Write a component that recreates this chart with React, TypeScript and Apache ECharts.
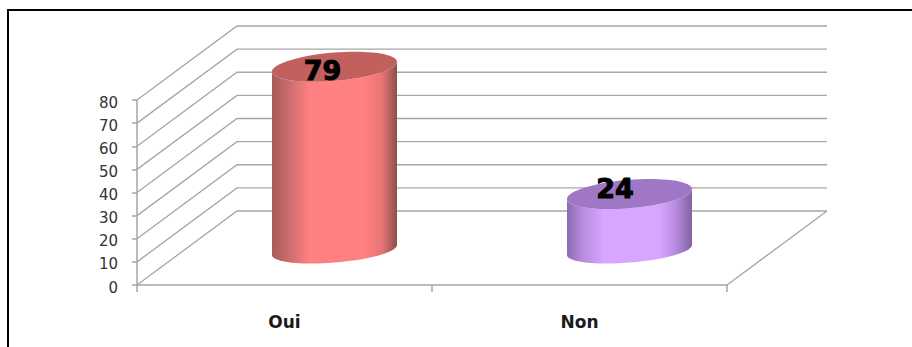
import React, { useEffect, useRef } from "react";
import * as echarts from "echarts";

const categories = ["Oui", "Non"];
const values = [79, 24];
const valueTicks = [0, 10, 20, 30, 40, 50, 60, 70, 80];

const DEPTH_X = 100;
const DEPTH_Y = -74;
const GRID_COLOR = "#a6a6a6";
const KAPPA = 0.5523;

const palettes = [
  { top: "#c2605e", stops: ["#a85a5a", "#c96c6c", "#ff8080", "#ff8080", "#e87474", "#8c4f4f"] },
  { top: "#a077c4", stops: ["#8d6bae", "#b68de0", "#d8a6ff", "#d8a6ff", "#b488dc", "#7f62a0"] },
];
const stopAt = [0, 0.13, 0.3, 0.74, 0.88, 1];
const labelShift = [[-12, 3.5], [-14.5, -5.5]];

type P = [number, number];
const UX = 62.5;
const UY = -5;
const TOP_B = 14.2;
const BASE_B = 12.6;

const pt = (c: P, a: number, b: number, vb: number): string =>
  `${(c[0] + UX * a).toFixed(2)} ${(c[1] + UY * a + vb * b).toFixed(2)}`;

// Quarter arc of a sheared ellipse, a=cos, b=sin
const arc = (c: P, a0: number, b0: number, a1: number, b1: number, vb: number): string =>
  `C ${pt(c, a0 + KAPPA * a1, b0 + KAPPA * b1, vb)} ${pt(c, a1 + KAPPA * a0, b1 + KAPPA * b0, vb)} ${pt(c, a1, b1, vb)}`;

const ellipsePath = (c: P, vb: number): string =>
  `M ${pt(c, 1, 0, vb)} ${arc(c, 1, 0, 0, 1, vb)} ${arc(c, 0, 1, -1, 0, vb)} ${arc(c, -1, 0, 0, -1, vb)} ${arc(c, 0, -1, 1, 0, vb)} Z`;

const bodyPath = (top: P, base: P): string =>
  `M ${pt(top, -1, 0, TOP_B)} L ${pt(base, -1, 0, BASE_B)} ${arc(base, -1, 0, 0, 1, BASE_B)} ${arc(base, 0, 1, 1, 0, BASE_B)} ` +
  `L ${pt(top, 1, 0, TOP_B)} ${arc(top, 1, 0, 0, 1, TOP_B)} ${arc(top, 0, 1, -1, 0, TOP_B)} Z`;

const renderWall = (params: any, api: any) => {
  const left = params.coordSys.x;
  const right = left + params.coordSys.width;
  const y = api.coord([0, api.value(1)])[1];
  const isFloor = api.value(1) === 0;
  const style = { stroke: GRID_COLOR, lineWidth: 1.3, fill: "none" };
  const children: any[] = [
    { type: "polyline", shape: { points: [[left, y], [left + DEPTH_X, y + DEPTH_Y], [right + DEPTH_X, y + DEPTH_Y]] }, style },
  ];
  if (isFloor) {
    children.push({ type: "line", shape: { x1: right + DEPTH_X, y1: y + DEPTH_Y, x2: right, y2: y }, style });
  }
  return { type: "group", children };
};

const renderCylinder = (params: any, api: any) => {
  const i = params.dataIndex;
  const xy = api.coord([api.value(0), api.value(1)]);
  const zero = api.coord([api.value(0), 0]);
  const cx = xy[0] + DEPTH_X / 2;
  const top: P = [cx, xy[1] - 35.5];
  const base: P = [cx, zero[1] - 35];
  const pal = palettes[i];
  return {
    type: "group",
    children: [
      {
        type: "path",
        shape: { pathData: bodyPath(top, base) },
        style: {
          fill: new echarts.graphic.LinearGradient(
            0, 0, 1, 0,
            pal.stops.map((color, k) => ({ offset: stopAt[k], color }))
          ),
        },
      },
      { type: "path", shape: { pathData: ellipsePath(top, TOP_B) }, style: { fill: pal.top } },
      {
        type: "text",
        x: cx + labelShift[i][0],
        y: top[1] + labelShift[i][1],
        style: {
          text: String(api.value(1)),
          fill: "#000",
          font: "bold 27px 'DejaVu Sans'",
          align: "center",
          verticalAlign: "middle",
          stroke: "#000",
          lineWidth: 1,
        },
      },
    ],
  };
};

export default function App() {
  const ref = useRef<HTMLDivElement>(null);
  useEffect(() => {
    document.body.style.margin = "0";
    document.body.style.background = "#fff";
    const chart = echarts.init(ref.current!, null, { renderer: "svg" });
    chart.setOption({
      animation: false,
      backgroundColor: "#fff",
      grid: { left: 137, top: 100, width: 590, height: 185, containLabel: false },
      xAxis: {
        type: "category",
        data: categories,
        axisLine: { lineStyle: { color: GRID_COLOR, width: 1.5 } },
        axisTick: { show: true, length: 7, lineStyle: { color: GRID_COLOR, width: 1.5 } },
        axisLabel: {
          margin: 28,
          color: "#1a1a1a",
          fontFamily: "DejaVu Sans",
          fontWeight: "bold",
          fontSize: 17,
        },
        splitLine: { show: false },
      },
      yAxis: {
        type: "value",
        min: 0,
        max: 80,
        interval: 10,
        axisLine: { show: true, lineStyle: { color: GRID_COLOR, width: 1.5 } },
        axisTick: { show: true, length: 5, lineStyle: { color: GRID_COLOR, width: 1.5 } },
        axisLabel: {
          margin: 19,
          formatter: "{v|{value}}",
          rich: {
            v: {
              color: "#333",
              fontFamily: "DejaVu Sans",
              fontSize: 15,
              padding: [5, 0, 0, 0],
            },
          },
        },
        splitLine: { show: false },
      },
      graphic: [
        {
          type: "polyline",
          shape: { points: [[8, 347], [8, 10], [912, 10]] },
          style: { stroke: "#000", lineWidth: 2, fill: "none" },
          z: 10,
        },
      ],
      series: [
        {
          type: "custom",
          z: 1,
          silent: true,
          renderItem: renderWall,
          encode: { x: 0, y: 1 },
          data: valueTicks.map((t) => [0, t]),
        },
        {
          type: "custom",
          z: 2,
          silent: true,
          renderItem: renderCylinder,
          encode: { x: 0, y: 1 },
          data: values.map((v, i) => [i, v]),
        },
      ],
    });
    return () => chart.dispose();
  }, []);
  return <div ref={ref} style={{ position: "fixed", left: 0, top: 0, width: 912, height: 347 }} />;
}
